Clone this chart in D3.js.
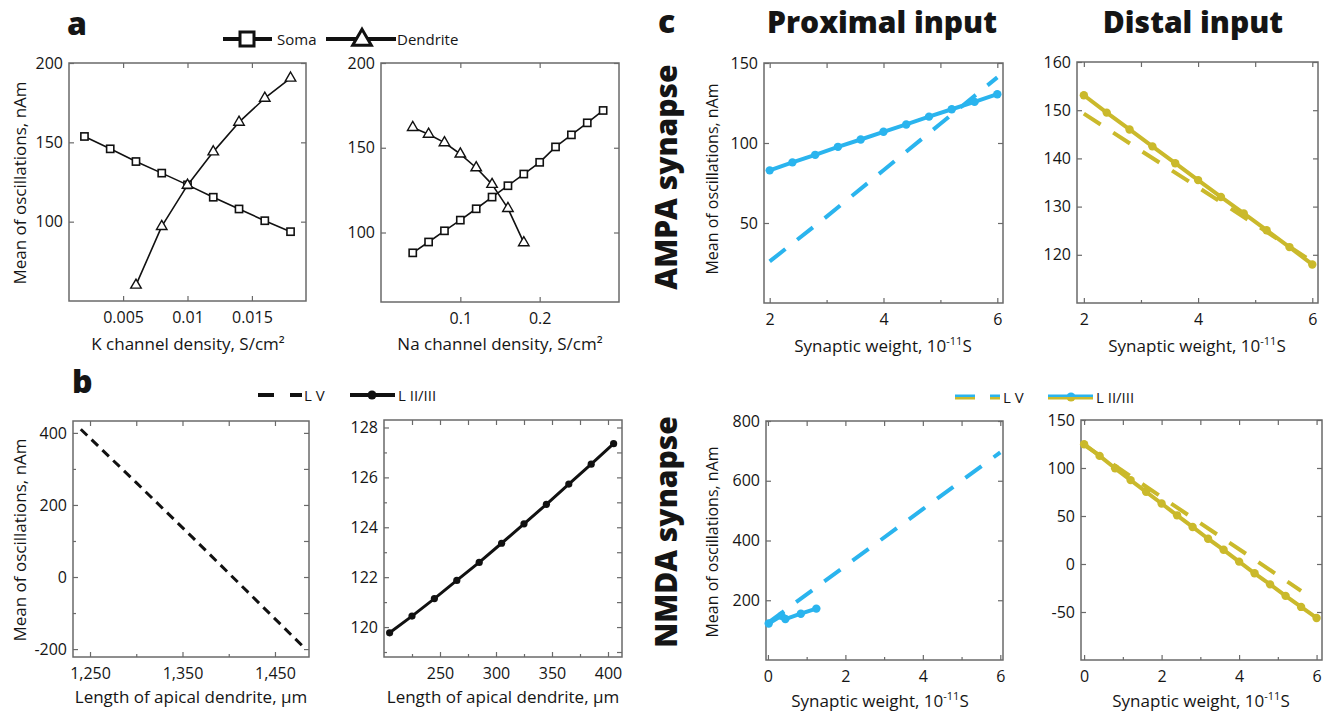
<!DOCTYPE html>
<html><head><meta charset="utf-8">
<script src="https://cdn.jsdelivr.net/npm/d3@7"></script>
<style>
body{margin:0;background:#fff}
svg{display:block}
text{font-family:'Open Sans','Noto Sans',sans-serif;fill:#151515}
</style>
</head><body>
<svg id="chart" width="1334" height="714"></svg>
<script>
// ---------- data ----------
// panel a (left): K channel density
const kDensity = [0.002,0.004,0.006,0.008,0.010,0.012,0.014,0.016,0.018];
const kSoma = [153.7,145.9,137.9,130.6,123.2,115.4,108,100.6,93.7];
const kDendDensity = [0.006,0.008,0.010,0.012,0.014,0.016,0.018];
const kDend = [60,97,123,144,162.7,177.8,190.5];
// panel a (right): Na channel density
const naDensity = [0.04,0.06,0.08,0.10,0.12,0.14,0.16,0.18,0.20,0.22,0.24,0.26,0.28];
const naSoma = [88,94.4,101,107.3,114,120.9,127.6,134.5,141.4,150.5,157.6,164.7,172];
const naDendDensity = [0.04,0.06,0.08,0.10,0.12,0.14,0.16,0.18];
const naDend = [162,158,153,146.3,138.2,128.4,114.2,94];
// panel b: apical dendrite length
const lvLength = [1240,1300,1360,1420,1480];
const lvMean = [410,262,112,-40,-192];
const l23Length = [205,225,245,265,285,305,325,345,365,385,405];
const l23Mean = [119.77,120.44,121.14,121.87,122.59,123.36,124.14,124.92,125.73,126.53,127.35];
// panel c: synaptic weight
const ampaWeight = [2,2.4,2.8,3.2,3.6,4.0,4.4,4.8,5.2,5.6,6.0];
const ampaProxL23 = [82.9,87.9,92.6,97.6,102.2,107,111.6,116.5,121.1,125.7,130.5];
const ampaLVWeight = [2,3,4,5,6];
const ampaProxLV = [26,54,83,112,141];
const ampaDistL23 = [153.1,149.5,146.0,142.5,139,135.5,132,128.6,125.1,121.6,118];
const ampaDistLV = [149.3,141.6,134,126.3,118.6];
const nmdaProxWeight = [0.02,0.35,0.45,0.85,1.25];
const nmdaProxL23 = [122,148,137,155,172];
const nmdaProxLVWeight = [0,2,4,6];
const nmdaProxLV = [124,315,505,695];
const nmdaDistWeight = [0,0.4,0.8,1.2,1.6,2.0,2.4,2.8,3.2,3.6,4.0,4.4,4.8,5.2,5.6,6.0];
const nmdaDistL23 = [124.8,112.6,99.7,87.4,75.2,63,50.7,38.6,26.3,14.8,2.5,-9.7,-21.2,-33.2,-44.7,-56.2];
const nmdaDistLVWeight = [0,1.4,2.8,4.2,5.6];
const nmdaDistLV = [124,86,48,10,-28];

// tick labels
const aKTicks = [0.005,0.01,0.015];
const aNaTicks = [0.1,0.2];
const aYTicks = [100,150,200];
const bLVXTicks = [1250,1350,1450];
const bLVYTicks = [-200,0,200,400];
const bL23XTicks = [250,300,350,400];
const bL23YTicks = [120,122,124,126,128];
const cAmpaXTicks = [2,4,6];
const cNmdaXTicks = [0,2,4,6];
const cAmpaProxYTicks = [50,100,150];
const cAmpaDistYTicks = [120,130,140,150,160];
const cNmdaProxYTicks = [200,400,600,800];
const cNmdaDistYTicks = [-50,0,50,100,150];

// ---------- style ----------
const CYAN = '#2ab4ee';
const YEL = '#cab92b';
const FRAME = '#6a6a6a';
const svg = d3.select('#chart');

function fmtComma(v){ return d3.format(',')(v); }

function panel(o){
  const x = d3.scaleLinear().domain(o.xd).range([o.l, o.r]);
  const y = d3.scaleLinear().domain(o.yd).range([o.b, o.t]);
  const g = svg.append('g');
  const fs = 16;
  const styleAxis = sel => {
    sel.select('.domain').remove();
    sel.selectAll('line').attr('stroke', FRAME).attr('stroke-width', 1.2);
    sel.selectAll('text').style('font-size', fs + 'px').attr('fill', '#151515');
  };
  const fmt = o.xf || (v => String(v));
  const xb = g.append('g').attr('transform', `translate(0,${o.b})`)
    .call(d3.axisBottom(x).tickValues(o.xt).tickSize(-5).tickPadding(11).tickFormat(fmt));
  styleAxis(xb);
  g.append('g').attr('transform', `translate(0,${o.t})`)
    .call(d3.axisTop(x).tickValues(o.xt.concat(o.xm || [])).tickSize(-5).tickFormat('')).call(styleAxis);
  if (o.xm) g.append('g').attr('transform', `translate(0,${o.b})`)
    .call(d3.axisBottom(x).tickValues(o.xm).tickSize(-3).tickFormat('')).call(styleAxis);
  const yl = g.append('g').attr('transform', `translate(${o.l},0)`)
    .call(d3.axisLeft(y).tickValues(o.yt).tickSize(-5).tickPadding(6).tickFormat(o.yf || (v => String(v))));
  styleAxis(yl);
  g.append('g').attr('transform', `translate(${o.r},0)`)
    .call(d3.axisRight(y).tickValues(o.yt.concat(o.ym || [])).tickSize(-5).tickFormat('')).call(styleAxis);
  if (o.ym) g.append('g').attr('transform', `translate(${o.l},0)`)
    .call(d3.axisLeft(y).tickValues(o.ym).tickSize(-3).tickFormat('')).call(styleAxis);
  g.append('rect').attr('x', o.l).attr('y', o.t).attr('width', o.r - o.l).attr('height', o.b - o.t)
    .attr('fill', 'none').attr('stroke', FRAME).attr('stroke-width', 1.5);
  return {x, y, g};
}

function line(p, xs, ys, color, width, dash){
  const data = xs.map((v, i) => [v, ys[i]]);
  p.g.append('path').datum(data)
    .attr('d', d3.line().x(d => p.x(d[0])).y(d => p.y(d[1])))
    .attr('fill', 'none').attr('stroke', color).attr('stroke-width', width)
    .attr('stroke-dasharray', dash || null).attr('stroke-linejoin', 'round');
  return data;
}
function dots(p, xs, ys, color, r){
  p.g.selectAll(null).data(xs.map((v, i) => [v, ys[i]])).enter().append('circle')
    .attr('cx', d => p.x(d[0])).attr('cy', d => p.y(d[1])).attr('r', r).attr('fill', color);
}
function squares(p, xs, ys){
  p.g.selectAll(null).data(xs.map((v, i) => [v, ys[i]])).enter().append('rect')
    .attr('x', d => p.x(d[0]) - 3.6).attr('y', d => p.y(d[1]) - 3.6).attr('width', 7.2).attr('height', 7.2)
    .attr('fill', '#fff').attr('stroke', '#111').attr('stroke-width', 1.6);
}
function triangles(p, xs, ys){
  const tri = d3.symbol().type(d3.symbolTriangle).size(48);
  p.g.selectAll(null).data(xs.map((v, i) => [v, ys[i]])).enter().append('path')
    .attr('d', tri).attr('transform', d => `translate(${p.x(d[0])},${p.y(d[1])})`)
    .attr('fill', '#fff').attr('stroke', '#111').attr('stroke-width', 1.4);
}
function text(x, y, s, opt){
  opt = opt || {};
  const t = svg.append('text').attr('x', x).attr('y', y).text(s)
    .style('font-size', (opt.size || 17) + 'px')
    .style('font-weight', opt.bold ? 800 : 400)
    .attr('text-anchor', opt.anchor || 'start');
  if (opt.rotate) t.attr('transform', `rotate(-90,${x},${y})`);
  return t;
}
function weightLabel(cx, y){
  const t = svg.append('text').attr('x', cx).attr('y', y).attr('text-anchor', 'middle').style('font-size', '17px');
  t.append('tspan').text('Synaptic weight, 10');
  t.append('tspan').text('-11').attr('dy', -7).style('font-size', '11px');
  t.append('tspan').text('S').attr('dy', 7);
}

// ---------- panel a ----------
const pa1 = panel({l:69, r:306, t:63, b:301, xd:[0.0008,0.0192], yd:[50,200], xt:aKTicks, yt:aYTicks});
line(pa1, kDensity, kSoma, '#111', 1.6);
line(pa1, kDendDensity, kDend, '#111', 1.6);
squares(pa1, kDensity, kSoma);
triangles(pa1, kDendDensity, kDend);

const pa2 = panel({l:381, r:619, t:63, b:302, xd:[0,0.3], yd:[59,200], xt:aNaTicks, yt:aYTicks});
line(pa2, naDensity, naSoma, '#111', 1.6);
line(pa2, naDendDensity, naDend, '#111', 1.6);
squares(pa2, naDensity, naSoma);
triangles(pa2, naDendDensity, naDend);

// ---------- panel b ----------
const pb1 = panel({l:73, r:309, t:421, b:657, xd:[1231.6,1486.8], yd:[-222,433],
  xt:bLVXTicks, xm:[1300,1400], yt:bLVYTicks, ym:[-100,100,300], xf:fmtComma});
line(pb1, lvLength, lvMean, '#111', 3, '9,6');

const pb2 = panel({l:384, r:622, t:420, b:657, xd:[200,412.5], yd:[118.8,128.3],
  xt:bL23XTicks, xm:[225,275,325,375], yt:bL23YTicks, ym:[119,121,123,125,127]});
line(pb2, l23Length, l23Mean, '#111', 3);
dots(pb2, l23Length, l23Mean, '#111', 3.6);

// ---------- panel c ----------
const pc1 = panel({l:764, r:1003, t:63, b:303, xd:[1.9,6.1], yd:[0,150], xt:cAmpaXTicks, xm:[3,5], yt:cAmpaProxYTicks});
line(pc1, ampaLVWeight, ampaProxLV, CYAN, 4, '20,15');
line(pc1, ampaWeight, ampaProxL23, CYAN, 4);
dots(pc1, ampaWeight, ampaProxL23, CYAN, 4.2);

const pc2 = panel({l:1077, r:1318, t:62, b:303, xd:[1.88,6.1], yd:[110,160], xt:cAmpaXTicks, xm:[3,5], yt:cAmpaDistYTicks});
line(pc2, ampaLVWeight, ampaDistLV, YEL, 4, '20,15');
line(pc2, ampaWeight, ampaDistL23, YEL, 4);
dots(pc2, ampaWeight, ampaDistL23, YEL, 4.2);

const pc3 = panel({l:766, r:1003, t:421, b:660, xd:[-0.05,6.07], yd:[0,800], xt:cNmdaXTicks, xm:[1,3,5], yt:cNmdaProxYTicks});
line(pc3, nmdaProxLVWeight, nmdaProxLV, CYAN, 4, '20,15');
line(pc3, nmdaProxWeight, nmdaProxL23, CYAN, 4);
dots(pc3, nmdaProxWeight, nmdaProxL23, CYAN, 4.2);

const pc4 = panel({l:1081, r:1322, t:420, b:660, xd:[-0.08,6.14], yd:[-100,150], xt:cNmdaXTicks, xm:[1,3,5], yt:cNmdaDistYTicks});
line(pc4, nmdaDistLVWeight, nmdaDistLV, YEL, 4, '20,15');
line(pc4, nmdaDistWeight, nmdaDistL23, YEL, 4);
dots(pc4, nmdaDistWeight, nmdaDistL23, YEL, 4.2);

// ---------- texts ----------
text(67, 35, 'a', {size:32, bold:true});
text(72, 393, 'b', {size:32, bold:true});
text(658, 33, 'c', {size:32, bold:true});

text(882, 33, 'Proximal input', {size:30, bold:true, anchor:'middle'});
text(1193, 33, 'Distal input', {size:30, bold:true, anchor:'middle'});
text(677, 177, 'AMPA synapse', {size:30, bold:true, anchor:'middle', rotate:true});
text(677, 532, 'NMDA synapse', {size:30, bold:true, anchor:'middle', rotate:true});

['Mean of oscillations, nAm'].forEach(s => {
  text(26, 183, s, {anchor:'middle', rotate:true});
  text(26, 540, s, {anchor:'middle', rotate:true});
  text(718, 179, s, {anchor:'middle', rotate:true, size:16});
  text(718, 542, s, {anchor:'middle', rotate:true, size:16});
});
text(188, 350, 'K channel density, S/cm²', {anchor:'middle'});
text(500, 350, 'Na channel density, S/cm²', {anchor:'middle'});
text(191, 703, 'Length of apical dendrite, μm', {anchor:'middle'});
text(503, 703, 'Length of apical dendrite, μm', {anchor:'middle'});
weightLabel(883, 352);
weightLabel(1197, 352);
weightLabel(880, 707);
weightLabel(1201, 707);

// ---------- legends ----------
// a
svg.append('line').attr('x1',223).attr('x2',272).attr('y1',39).attr('y2',39).attr('stroke','#111').attr('stroke-width',4);
svg.append('rect').attr('x',240).attr('y',32).attr('width',14).attr('height',14).attr('fill','#fff').attr('stroke','#111').attr('stroke-width',3);
text(277, 45, 'Soma', {size:15});
svg.append('line').attr('x1',326).attr('x2',396).attr('y1',39).attr('y2',39).attr('stroke','#111').attr('stroke-width',4);
svg.append('path').attr('d', d3.symbol().type(d3.symbolTriangle).size(150)).attr('transform','translate(362,40)')
  .attr('fill','#fff').attr('stroke','#111').attr('stroke-width',3);
text(397, 45, 'Dendrite', {size:15});
// b
svg.append('line').attr('x1',258).attr('x2',302).attr('y1',395).attr('y2',395).attr('stroke','#111').attr('stroke-width',4).attr('stroke-dasharray','16,16');
text(304, 401, 'L V', {size:15});
svg.append('line').attr('x1',350).attr('x2',395).attr('y1',395).attr('y2',395).attr('stroke','#111').attr('stroke-width',4);
svg.append('circle').attr('cx',372).attr('cy',395).attr('r',4.5).attr('fill','#111');
text(398, 401, 'L II/III', {size:15});
// c (two-colour)
[[CYAN,-1.3],[YEL,1.3]].forEach(([c,dy]) => {
  svg.append('line').attr('x1',955).attr('x2',1000).attr('y1',397+dy).attr('y2',397+dy).attr('stroke',c).attr('stroke-width',2.6).attr('stroke-dasharray','20,15');
  svg.append('line').attr('x1',1048).attr('x2',1093).attr('y1',397+dy).attr('y2',397+dy).attr('stroke',c).attr('stroke-width',2.6);
});
svg.append('path').attr('d', d3.arc()({innerRadius:0, outerRadius:4.5, startAngle:-Math.PI/2, endAngle:Math.PI/2})).attr('transform','translate(1071,397)').attr('fill',CYAN);
svg.append('path').attr('d', d3.arc()({innerRadius:0, outerRadius:4.5, startAngle:Math.PI/2, endAngle:Math.PI*1.5})).attr('transform','translate(1071,397)').attr('fill',YEL);
text(1003, 403, 'L V', {size:15});
text(1096, 403, 'L II/III', {size:15});
</script>
</body></html>
